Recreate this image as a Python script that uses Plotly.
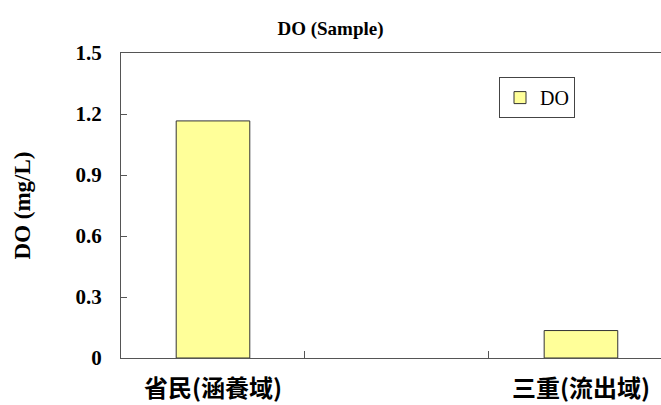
import plotly.graph_objects as go

categories = ["省民(涵養域)", " ", "三重(流出域)"]
do_values = [1.166, None, 0.135]
y_ticks = [0, 0.3, 0.6, 0.9, 1.2, 1.5]
y_tick_labels = ["0", "0.3", "0.6", "0.9", "1.2", "1.5"]

serif = "Liberation Serif, Times New Roman, serif"
cjk = "Noto Sans CJK TC, Liberation Serif, serif"

fig = go.Figure()
fig.add_trace(go.Bar(
    x=categories, y=do_values, name="DO",
    width=0.4,
    marker=dict(color="#FFFF99", line=dict(color="#333333", width=1)),
))

fig.update_layout(
    width=661, height=405,
    margin=dict(l=121, r=0, t=53, b=47),
    paper_bgcolor="white", plot_bgcolor="white",
    title=dict(text="<b>DO (Sample)</b>", x=0.5, xref="container", xanchor="center",
               y=1 - 28 / 405, yref="container", yanchor="middle",
               font=dict(family=serif, size=19, color="black")),
    showlegend=True,
    legend=dict(x=0.70, y=0.921, xanchor="left", yanchor="top",
                bordercolor="#444444", borderwidth=1, bgcolor="white",
                font=dict(family=serif, size=20, color="black"),
                itemwidth=30),
    bargap=0.6,
)

fig.update_xaxes(
    type="category", range=[-0.5, 2.435],
    showline=True, linecolor="#555555", linewidth=1, mirror=True,
    ticks="inside", tickson="boundaries", ticklen=7, tickcolor="#555555",
    tickfont=dict(family=cjk, size=24, color="black", weight="bold"),
    ticklabelstandoff=9,
    showgrid=False, zeroline=False,
)
fig.update_yaxes(
    range=[0, 1.5], tickvals=y_ticks, ticktext=y_tick_labels,
    showline=True, linecolor="#555555", linewidth=1, mirror=False,
    ticks="inside", ticklen=6, tickcolor="#555555",
    tickfont=dict(family=serif, size=21, color="black", weight="bold"),
    ticklabelstandoff=14,
    showgrid=False, zeroline=False,
    title=dict(text="<b>DO (mg/L)</b>", standoff=38,
               font=dict(family=serif, size=23, color="black")),
)

fig.write_html("out.html")
